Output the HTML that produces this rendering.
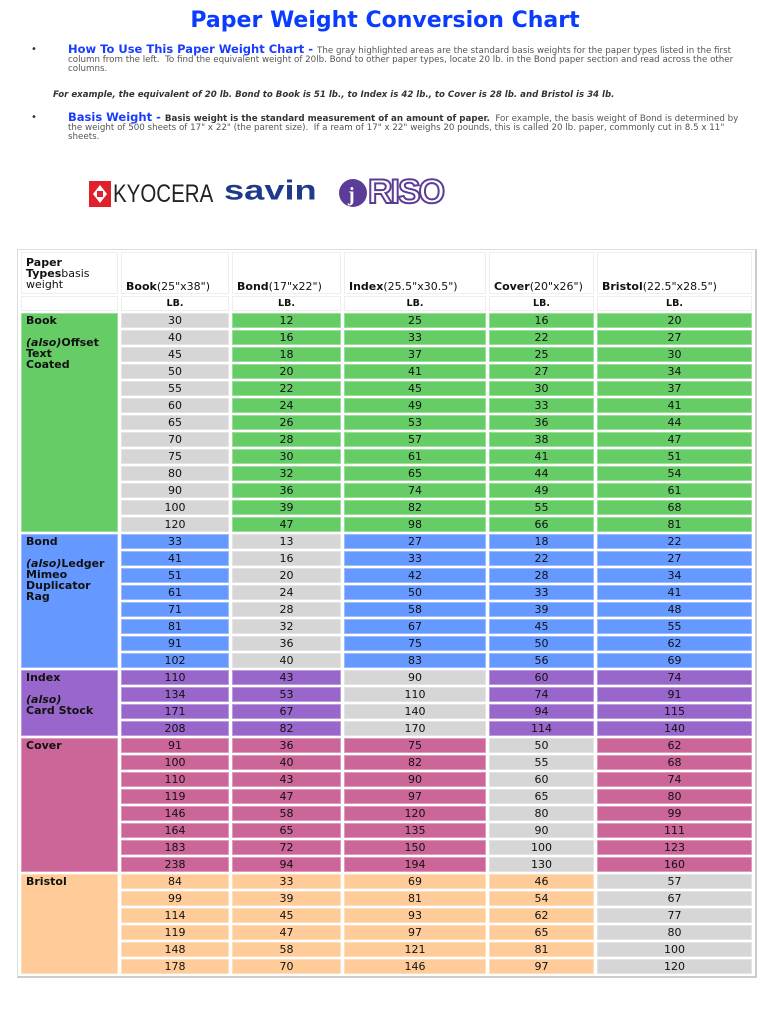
<!DOCTYPE html>
<html><head><meta charset="utf-8"><style>
body{margin:0;width:770px;height:1024px;background:#fff;font-family:"DejaVu Sans",Verdana,sans-serif;position:relative;overflow:hidden}
.t{position:absolute;left:0;top:8px;width:770px;text-align:center;color:#0a3cff;font-weight:bold;font-size:22px;line-height:26px}
.p{position:absolute;left:68px;width:680px;font-size:8.7px;color:#555;line-height:9px}
.p b.h{color:#1a3cff;font-size:11.5px}
.dot{position:absolute;left:31px;font-size:10px;color:#333}
.ex{position:absolute;left:53px;top:90px;font-size:8.6px;font-weight:bold;font-style:italic;color:#333}
table{position:absolute;left:17px;top:249px;border-collapse:separate;border-spacing:3px 2px;border:1px solid #ddd;border-right:2px solid #ccc;border-bottom:2px solid #ccc;table-layout:fixed}
td{padding:0;font-size:11px;text-align:center;height:13px;color:#111;border:1px solid rgba(255,255,255,.35);line-height:13px;overflow:hidden;white-space:nowrap}
td.l{text-align:left;vertical-align:top;font-weight:bold;padding:1px 4px;line-height:11px;white-space:normal}
.hd td{height:36px;vertical-align:bottom;text-align:left;padding:0 4px;border:1px solid #eee;line-height:13px}
.lb td{height:12px;font-weight:bold;font-size:9.5px;border:1px solid #eee}
.g{background:#66cc66}.y{background:#d6d6d6}.b{background:#6699ff}.u{background:#9966cc}.k{background:#cc6699}.o{background:#ffcc99}
</style></head><body>
<div class="t">Paper Weight Conversion Chart</div>
<div class="dot" style="top:44px">•</div>
<div class="p" style="top:45px"><b class="h">How To Use This Paper Weight Chart - </b>The gray highlighted areas are the standard basis weights for the paper types listed in the first column from the left.&nbsp; To find the equivalent weight of 20lb. Bond to other paper types, locate 20 lb. in the Bond paper section and read across the other columns.</div>
<div class="ex">For example, the equivalent of 20 lb. Bond to Book is 51 lb., to Index is 42 lb., to Cover is 28 lb. and Bristol is 34 lb.</div>
<div class="dot" style="top:112px">•</div>
<div class="p" style="top:113px"><b class="h">Basis Weight - </b><b style="color:#333">Basis weight is the standard measurement of an amount of paper.</b>&nbsp; For example, the basis weight of Bond is determined by the weight of 500 sheets of 17" x 22" (the parent size).&nbsp; If a ream of 17" x 22" weighs 20 pounds, this is called 20 lb. paper, commonly cut in 8.5 x 11" sheets.</div>
<svg style="position:absolute;left:89px;top:181px" width="22" height="26"><rect width="22" height="26" fill="#e0202a"/><path d="M11 4 L18 13 L11 22 L4 13Z" fill="#fff"/><rect x="8" y="10" width="6" height="6" fill="#e0202a"/></svg>
<div style="position:absolute;left:113px;top:180px;font-size:25px;line-height:28px;color:#222;font-family:'Liberation Sans',sans-serif;transform:scaleX(.82);transform-origin:left">KYOCERA</div>
<div style="position:absolute;left:224px;top:173px;font-size:29px;line-height:36px;font-weight:bold;color:#1f3a8a;font-family:'Liberation Sans',sans-serif;transform:scaleX(1.25) scaleY(.95);transform-origin:left">savin</div>
<svg style="position:absolute;left:338px;top:178px" width="30" height="30"><circle cx="15" cy="15" r="14" fill="#5b3c96"/><text x="10" y="23" font-size="20" fill="#fff" font-weight="bold" font-family="Liberation Serif">j</text></svg>
<div style="position:absolute;left:368px;top:174px;font-size:34px;line-height:36px;color:#fff;-webkit-text-stroke:2px #5b3c96;font-weight:bold;letter-spacing:-2px;font-family:'Liberation Sans',sans-serif">RISO</div>
<table>
<colgroup><col style="width:97px"><col style="width:108px"><col style="width:109px"><col style="width:142px"><col style="width:105px"><col style="width:155px"></colgroup>
<tr class="hd"><td style="vertical-align:top;padding-top:4px;line-height:11px;white-space:normal"><b>Paper<br>Types</b>basis<br>weight</td><td><b>Book</b>(25"x38")</td><td><b>Bond</b>(17"x22")</td><td><b>Index</b>(25.5"x30.5")</td><td><b>Cover</b>(20"x26")</td><td><b>Bristol</b>(22.5"x28.5")</td></tr>
<tr class="lb"><td></td><td>LB.</td><td>LB.</td><td>LB.</td><td>LB.</td><td>LB.</td></tr>
<tr><td class="l g" rowspan="13">Book<br><br><i>(also)</i>Offset<br>Text<br>Coated</td><td class="y">30</td><td class="g">12</td><td class="g">25</td><td class="g">16</td><td class="g">20</td></tr>
<tr><td class="y">40</td><td class="g">16</td><td class="g">33</td><td class="g">22</td><td class="g">27</td></tr>
<tr><td class="y">45</td><td class="g">18</td><td class="g">37</td><td class="g">25</td><td class="g">30</td></tr>
<tr><td class="y">50</td><td class="g">20</td><td class="g">41</td><td class="g">27</td><td class="g">34</td></tr>
<tr><td class="y">55</td><td class="g">22</td><td class="g">45</td><td class="g">30</td><td class="g">37</td></tr>
<tr><td class="y">60</td><td class="g">24</td><td class="g">49</td><td class="g">33</td><td class="g">41</td></tr>
<tr><td class="y">65</td><td class="g">26</td><td class="g">53</td><td class="g">36</td><td class="g">44</td></tr>
<tr><td class="y">70</td><td class="g">28</td><td class="g">57</td><td class="g">38</td><td class="g">47</td></tr>
<tr><td class="y">75</td><td class="g">30</td><td class="g">61</td><td class="g">41</td><td class="g">51</td></tr>
<tr><td class="y">80</td><td class="g">32</td><td class="g">65</td><td class="g">44</td><td class="g">54</td></tr>
<tr><td class="y">90</td><td class="g">36</td><td class="g">74</td><td class="g">49</td><td class="g">61</td></tr>
<tr><td class="y">100</td><td class="g">39</td><td class="g">82</td><td class="g">55</td><td class="g">68</td></tr>
<tr><td class="y">120</td><td class="g">47</td><td class="g">98</td><td class="g">66</td><td class="g">81</td></tr>
<tr><td class="l b" rowspan="8">Bond<br><br><i>(also)</i>Ledger<br>Mimeo<br>Duplicator<br>Rag</td><td class="b">33</td><td class="y">13</td><td class="b">27</td><td class="b">18</td><td class="b">22</td></tr>
<tr><td class="b">41</td><td class="y">16</td><td class="b">33</td><td class="b">22</td><td class="b">27</td></tr>
<tr><td class="b">51</td><td class="y">20</td><td class="b">42</td><td class="b">28</td><td class="b">34</td></tr>
<tr><td class="b">61</td><td class="y">24</td><td class="b">50</td><td class="b">33</td><td class="b">41</td></tr>
<tr><td class="b">71</td><td class="y">28</td><td class="b">58</td><td class="b">39</td><td class="b">48</td></tr>
<tr><td class="b">81</td><td class="y">32</td><td class="b">67</td><td class="b">45</td><td class="b">55</td></tr>
<tr><td class="b">91</td><td class="y">36</td><td class="b">75</td><td class="b">50</td><td class="b">62</td></tr>
<tr><td class="b">102</td><td class="y">40</td><td class="b">83</td><td class="b">56</td><td class="b">69</td></tr>
<tr><td class="l u" rowspan="4">Index<br><br><i>(also)</i><br>Card Stock</td><td class="u">110</td><td class="u">43</td><td class="y">90</td><td class="u">60</td><td class="u">74</td></tr>
<tr><td class="u">134</td><td class="u">53</td><td class="y">110</td><td class="u">74</td><td class="u">91</td></tr>
<tr><td class="u">171</td><td class="u">67</td><td class="y">140</td><td class="u">94</td><td class="u">115</td></tr>
<tr><td class="u">208</td><td class="u">82</td><td class="y">170</td><td class="u">114</td><td class="u">140</td></tr>
<tr><td class="l k" rowspan="8">Cover</td><td class="k">91</td><td class="k">36</td><td class="k">75</td><td class="y">50</td><td class="k">62</td></tr>
<tr><td class="k">100</td><td class="k">40</td><td class="k">82</td><td class="y">55</td><td class="k">68</td></tr>
<tr><td class="k">110</td><td class="k">43</td><td class="k">90</td><td class="y">60</td><td class="k">74</td></tr>
<tr><td class="k">119</td><td class="k">47</td><td class="k">97</td><td class="y">65</td><td class="k">80</td></tr>
<tr><td class="k">146</td><td class="k">58</td><td class="k">120</td><td class="y">80</td><td class="k">99</td></tr>
<tr><td class="k">164</td><td class="k">65</td><td class="k">135</td><td class="y">90</td><td class="k">111</td></tr>
<tr><td class="k">183</td><td class="k">72</td><td class="k">150</td><td class="y">100</td><td class="k">123</td></tr>
<tr><td class="k">238</td><td class="k">94</td><td class="k">194</td><td class="y">130</td><td class="k">160</td></tr>
<tr><td class="l o" rowspan="6">Bristol</td><td class="o">84</td><td class="o">33</td><td class="o">69</td><td class="o">46</td><td class="y">57</td></tr>
<tr><td class="o">99</td><td class="o">39</td><td class="o">81</td><td class="o">54</td><td class="y">67</td></tr>
<tr><td class="o">114</td><td class="o">45</td><td class="o">93</td><td class="o">62</td><td class="y">77</td></tr>
<tr><td class="o">119</td><td class="o">47</td><td class="o">97</td><td class="o">65</td><td class="y">80</td></tr>
<tr><td class="o">148</td><td class="o">58</td><td class="o">121</td><td class="o">81</td><td class="y">100</td></tr>
<tr><td class="o">178</td><td class="o">70</td><td class="o">146</td><td class="o">97</td><td class="y">120</td></tr>
</table>
</body></html>
